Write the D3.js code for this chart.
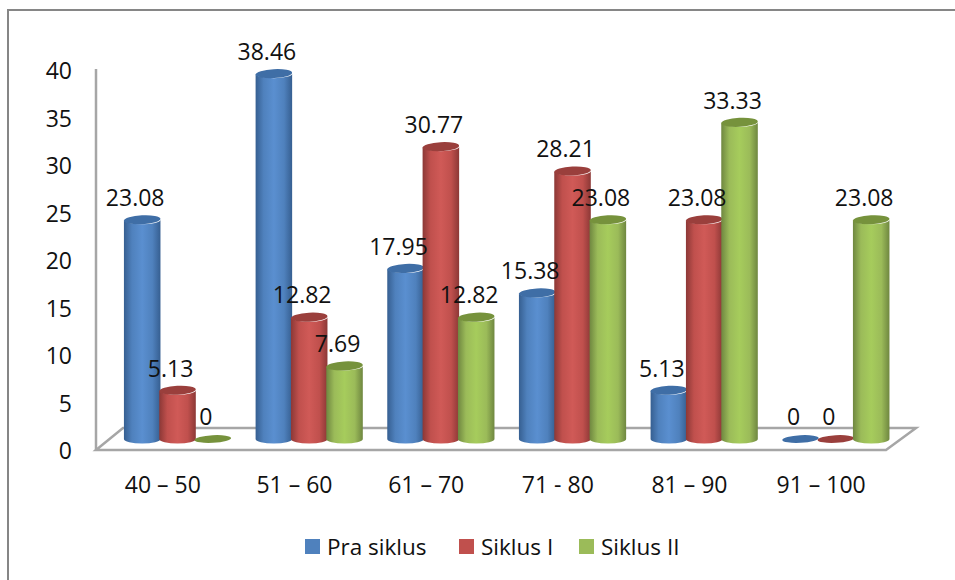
<!DOCTYPE html>
<html><head><meta charset="utf-8">
<script src="https://cdnjs.cloudflare.com/ajax/libs/d3/7.8.5/d3.min.js"></script>
<style>html,body{margin:0;padding:0;background:#fff;overflow:hidden}svg{display:block}text{font-family:"Open Sans",sans-serif;fill:#111}</style>
</head><body><svg id="c" width="955" height="580"></svg>
<script>
const categories=["40 – 50","51 – 60","61 – 70","71 - 80","81 – 90","91 – 100"];
const praSiklus=[23.08,38.46,17.95,15.38,5.13,0];
const siklusI=[5.13,12.82,30.77,28.21,23.08,0];
const siklusII=[0,7.69,12.82,23.08,33.33,23.08];
const seriesNames=["Pra siklus","Siklus I","Siklus II"];
const seriesValues=[praSiklus,siklusI,siklusII];
const yTicks=[0,5,10,15,20,25,30,35,40];
const colors=[
 {mid:"#5a8fd0",base:"#4f81bd",edge:"#365f91",top:"#3f6ea6",legend:"#4f81bd"},
 {mid:"#d05a57",base:"#c0504d",edge:"#8c3836",top:"#9a3f3c",legend:"#c0504d"},
 {mid:"#a6cc5c",base:"#9bbb59",edge:"#6f8740",top:"#76923c",legend:"#9bbb59"}];

const svg=d3.select("#c");
const defs=svg.append("defs");
colors.forEach((c,i)=>{
  const g=defs.append("linearGradient").attr("id","g"+i);
  [[0,c.edge],[.22,c.base],[.5,c.mid],[.78,c.base],[1,c.edge]].forEach(([o,col])=>g.append("stop").attr("offset",o).attr("stop-color",col));
});
const y=d3.scaleLinear().domain([0,40]).range([450,70]);
const x0=d3.scaleBand().domain(categories).range([96,886]);
const x1=d3.scaleBand().domain(d3.range(3)).range([-53,53]);
const depthX=15.7,depthY=11,ry=4.5;

svg.append("rect").attr("x",8).attr("y",10).attr("width",1000).attr("height",620).attr("fill","#fff").attr("stroke","#868686").attr("stroke-width",2);

// floor & axis
const grey="#a6a6a6";
svg.append("path").attr("d",`M${x0.range()[0]},${y(0)}L${x0.range()[0]+27},${y(0)-22}H${x0.range()[1]+30}L${x0.range()[1]},${y(0)}Z`).attr("fill","#fff").attr("stroke",grey).attr("stroke-width",2.5);
svg.append("line").attr("x1",96).attr("x2",96).attr("y1",y(40)-1).attr("y2",y(0)).attr("stroke",grey).attr("stroke-width",2.5);

svg.append("g").selectAll("text").data(yTicks).join("text")
  .attr("x",72).attr("y",d=>y(d)+1).attr("dy","0.36em").attr("text-anchor","end").attr("font-size",23).text(d=>d);
svg.append("g").selectAll("text").data(categories).join("text")
  .attr("x",d=>x0(d)+x0.bandwidth()/2+1).attr("y",485).attr("dy","0.36em").attr("text-anchor","middle").attr("font-size",23).text(d=>d);

// cylinders
const items=[];
categories.forEach((c,ci)=>seriesValues.forEach((vals,si)=>items.push({c,si,v:vals[ci]})));
const cx=d=>x0(d.c)+x0.bandwidth()/2+depthX+x1(d.si)+x1.bandwidth()/2;
const rx=x1.bandwidth()/2+.6;
const marks=svg.append("g").selectAll("g").data(items).join("g");
marks.filter(d=>d.v>0).append("path").attr("d",d=>{
  const X=cx(d),T=y(d.v)-depthY,B=y(0)-depthY;
  return `M${X-rx},${T}V${B}A${rx},${ry} 0 0 0 ${X+rx},${B}V${T}A${rx},${ry} 0 0 1 ${X-rx},${T}Z`;
}).attr("fill",d=>`url(#g${d.si})`);
marks.append("ellipse").attr("cx",cx).attr("cy",d=>y(d.v)-depthY).attr("rx",rx).attr("ry",d=>d.v>0?ry:3.8)
  .attr("transform",d=>`rotate(-3 ${cx(d)} ${y(d.v)-depthY})`).attr("fill",d=>colors[d.si].top);

// value labels
svg.append("g").selectAll("text").data(items).join("text")
  .attr("x",d=>cx(d)-7).attr("y",d=>y(d.v)-33).attr("dy","0.36em").attr("text-anchor","middle").attr("font-size",23).text(d=>d.v);

// legend
const legendX=[305,459,579];
const lg=svg.append("g").selectAll("g").data(seriesNames).join("g").attr("transform",(d,i)=>`translate(${legendX[i]},539)`);
lg.append("rect").attr("width",15).attr("height",15).attr("fill",(d,i)=>colors[i].legend);
lg.append("text").attr("x",22).attr("y",8).attr("dy","0.36em").attr("font-size",22.5).text(d=>d);
</script></body></html>
